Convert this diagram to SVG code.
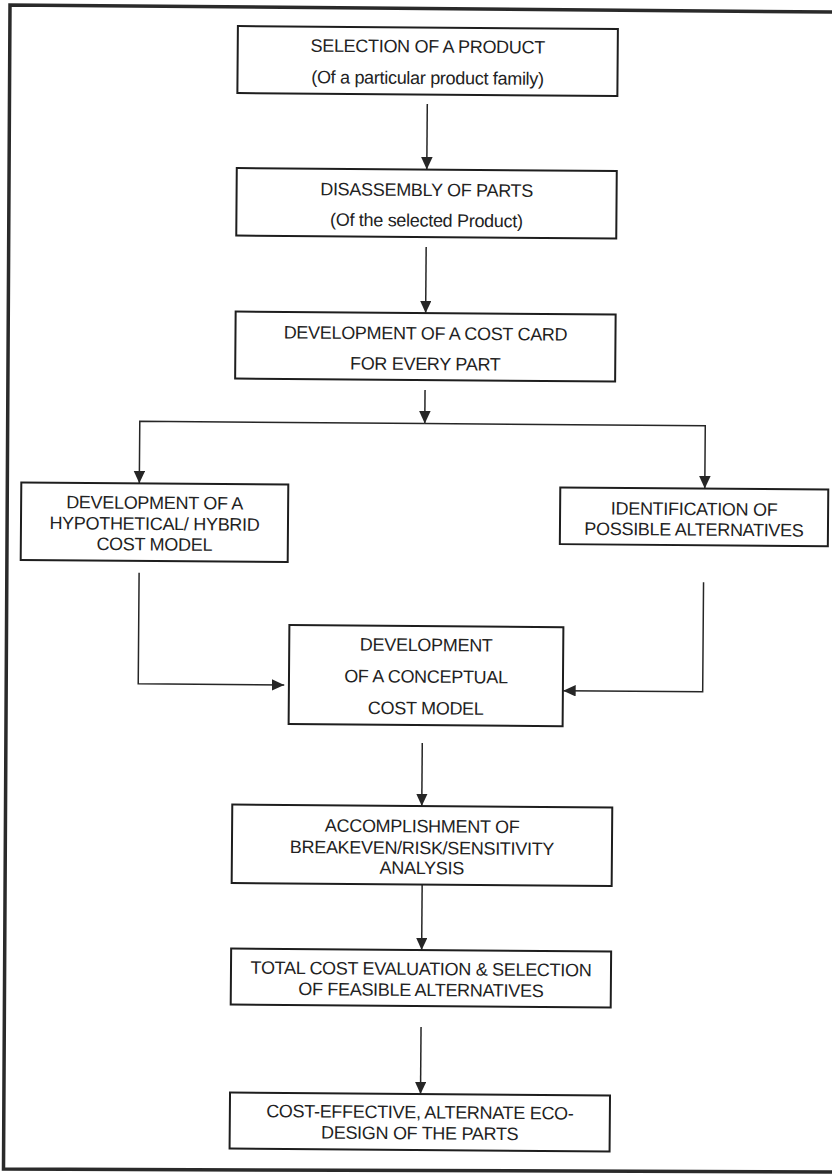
<svg xmlns="http://www.w3.org/2000/svg" width="832" height="1174" viewBox="0 0 832 1174">
<style>
.box{fill:#fff;stroke:#1e1e1e;stroke-width:2}
.t{font-family:"Liberation Sans",Arial,Helvetica,sans-serif;font-size:18px;letter-spacing:-0.3px;fill:#222;text-anchor:middle}
.c{fill:none;stroke:#262626;stroke-width:1.5}
.frame{fill:none;stroke:#2a2a2a;stroke-width:3.5;stroke-linejoin:miter}
</style>
<defs>
<marker id="ah" markerUnits="userSpaceOnUse" markerWidth="13" markerHeight="12" refX="12.5" refY="5.75" orient="auto">
<path d="M0,0 L12.5,5.75 L0,11.5 z" fill="#262626"/>
</marker>
</defs>
<rect width="832" height="1174" fill="#fff"/>
<path class="frame" d="M832,12 L10,5 L3.5,1169 L832,1172"/>
<g transform="rotate(0.45 416 587)">
<g id="connectors">
<path class="c" d="M423.5,104 V169.5" marker-end="url(#ah)"/>
<path class="c" d="M423.5,247 V313" marker-end="url(#ah)"/>
<path class="c" d="M423.5,390 V423.5" marker-end="url(#ah)"/>
<path class="c" d="M423.5,423.5 H138.5 V485.5" marker-end="url(#ah)"/>
<path class="c" d="M423.5,423.5 H704 V486.3" marker-end="url(#ah)"/>
<path class="c" d="M139,575 V686 H285" marker-end="url(#ah)"/>
<path class="c" d="M703.5,580 V689.5 H564" marker-end="url(#ah)"/>
<path class="c" d="M423.5,743 V806" marker-end="url(#ah)"/>
<path class="c" d="M424.5,884.5 V950" marker-end="url(#ah)"/>
<path class="c" d="M424.5,1027 V1094" marker-end="url(#ah)"/>
</g>
<g id="n1">
<rect class="box" x="233.5" y="27.5" width="380" height="67"/>
<text class="t" x="423.5" y="52.5">SELECTION OF A PRODUCT</text>
<text class="t" x="423.5" y="84">(Of a particular product family)</text>
</g>
<g id="n2">
<rect class="box" x="233.5" y="169.5" width="380" height="67.5"/>
<text class="t" x="423.5" y="196">DISASSEMBLY OF PARTS</text>
<text class="t" x="423.5" y="226.5">(Of the selected Product)</text>
</g>
<g id="n3">
<rect class="box" x="233.5" y="313" width="380" height="67"/>
<text class="t" x="423.5" y="339.5">DEVELOPMENT OF A COST CARD</text>
<text class="t" x="423.5" y="370">FOR EVERY PART</text>
</g>
<g id="n4">
<rect class="box" x="20.5" y="485.5" width="267" height="77.5"/>
<text class="t" x="154" y="511">DEVELOPMENT OF A</text>
<text class="t" x="154" y="532">HYPOTHETICAL/ HYBRID</text>
<text class="t" x="154" y="552.5">COST MODEL</text>
</g>
<g id="n5">
<rect class="box" x="559.5" y="486.3" width="268" height="56.7"/>
<text class="t" x="693.5" y="513">IDENTIFICATION OF</text>
<text class="t" x="693.5" y="533.5">POSSIBLE ALTERNATIVES</text>
</g>
<g id="n6">
<rect class="box" x="289.7" y="626" width="274" height="99"/>
<text class="t" x="426.7" y="651">DEVELOPMENT</text>
<text class="t" x="426.7" y="682.7">OF A CONCEPTUAL</text>
<text class="t" x="426.7" y="714.3">COST MODEL</text>
</g>
<g id="n7">
<rect class="box" x="234" y="806" width="380" height="78.5"/>
<text class="t" x="424" y="832.3">ACCOMPLISHMENT OF</text>
<text class="t" x="424" y="854">BREAKEVEN/RISK/SENSITIVITY</text>
<text class="t" x="424" y="874">ANALYSIS</text>
</g>
<g id="n8">
<rect class="box" x="234" y="950" width="380" height="56"/>
<text class="t" x="424" y="975">TOTAL COST EVALUATION &amp; SELECTION</text>
<text class="t" x="424" y="996">OF FEASIBLE ALTERNATIVES</text>
</g>
<g id="n9">
<rect class="box" x="234" y="1094" width="380" height="56"/>
<text class="t" x="424" y="1118.3">COST-EFFECTIVE, ALTERNATE ECO-</text>
<text class="t" x="424" y="1139.3">DESIGN OF THE PARTS</text>
</g>
</g>
</svg>
